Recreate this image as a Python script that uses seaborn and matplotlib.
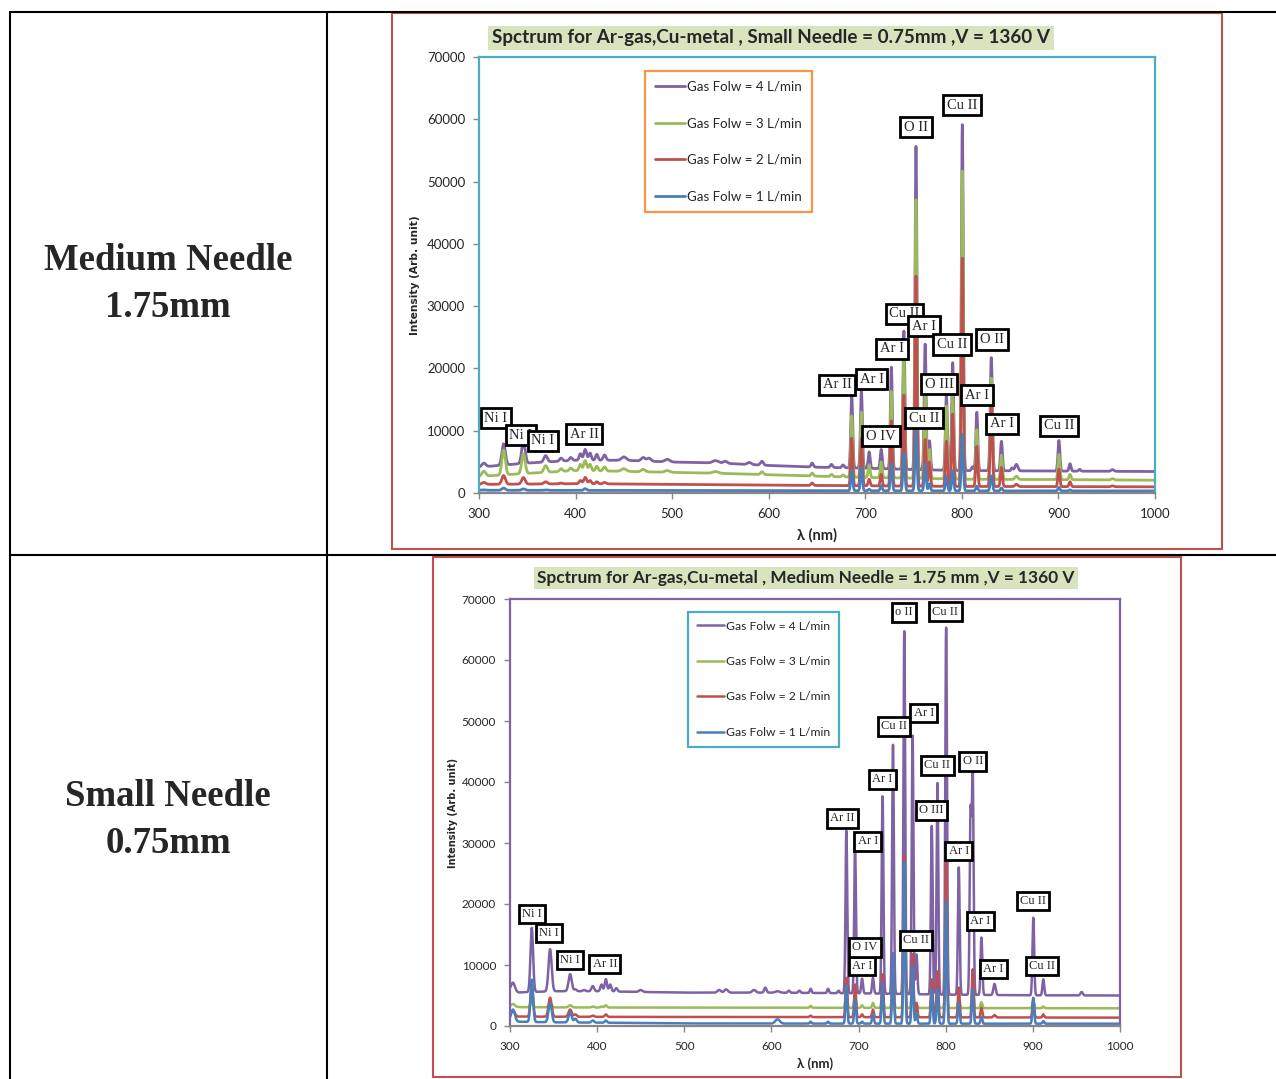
import matplotlib
matplotlib.use("Agg")
import matplotlib.pyplot as plt
import numpy as np
import pandas as pd
import seaborn as sns
from matplotlib.lines import Line2D
from matplotlib.patches import Rectangle

FLOW_LABELS = ["Gas Folw = 4 L/min", "Gas Folw = 3 L/min", "Gas Folw = 2 L/min", "Gas Folw = 1 L/min"]
FLOW_COLORS = ["#7f62a3", "#9bbb59", "#c0504d", "#4a7ebb"]

# ---- top chart: small needle 0.75 mm ----
SMALL_TITLE = "Spctrum for Ar-gas,Cu-metal , Small Needle = 0.75mm ,V = 1360 V"
SMALL_BASE_NM = [300, 350, 400, 450, 500, 550, 600, 650, 700, 750, 800, 900, 1000]
SMALL_BASE_P = [4150, 4800, 5250, 5250, 4970, 4800, 4420, 4140, 3980, 3760, 3600, 3520, 3450]
SMALL_BASE_G = [2650, 3150, 3600, 3480, 3310, 3150, 2930, 2700, 2490, 2380, 2210, 2150, 2050]
SMALL_BASE_R = [1380, 1430, 1490, 1450, 1380, 1330, 1270, 1210, 1160, 1100, 1050, 1020, 990]
SMALL_BASE_B = [440, 430, 420, 410, 400, 390, 380, 370, 360, 350, 340, 335, 330]

SMALL_PEAK_NM = [305, 325.5, 346, 369, 385, 395, 405, 410, 415, 422, 430, 450, 470, 476, 495,
                 545, 555, 580, 593, 645, 665, 677,
                 686, 696, 704, 716.5, 727, 740, 752.5, 762, 766.5, 784, 790.5, 800.5,
                 811, 815.5, 830.5, 841, 852, 856.5, 900.5, 912, 922, 956]
SMALL_PEAK_WIDTH = [2.0, 1.8, 1.8, 1.8, 1.5, 1.5, 1.3, 1.5, 1.3, 1.3, 1.5, 2.5, 2.0, 2.0, 2.5,
                    3.0, 2.0, 2.0, 1.5, 1.2, 1.2, 1.2,
                    1.0, 1.0, 1.0, 1.0, 1.0, 1.0, 1.0, 1.0, 1.0, 1.0, 1.0, 1.0,
                    1.0, 1.0, 1.1, 1.0, 1.0, 1.5, 1.0, 1.0, 1.0, 1.5]
SMALL_PEAK_P = [4800, 7900, 8300, 6000, 5600, 5700, 6300, 7000, 6400, 6200, 6100, 5800, 5700, 5600, 5400,
                5200, 5100, 4900, 5100, 4800, 4600, 4500,
                15700, 16500, 6600, 7000, 20200, 26000, 55900, 23900, 8400, 15700, 21000, 59400,
                4200, 13000, 21800, 8300, 4000, 4600, 8450, 4700, 3800, 3750]
SMALL_PEAK_G = [3500, 6900, 6300, 4400, 3900, 4000, 4600, 5200, 4600, 4300, 4200, 3900, 3800, 0, 3600,
                3450, 0, 0, 3400, 3200, 3000, 2900,
                12400, 13000, 4500, 5000, 16300, 21300, 47300, 16000, 7000, 14000, 15700, 51900,
                0, 10200, 18500, 6100, 0, 2700, 6200, 3000, 0, 2300]
SMALL_PEAK_R = [1700, 2800, 2500, 1800, 1600, 0, 2000, 2500, 2000, 1800, 1700, 0, 0, 0, 0,
                0, 0, 0, 0, 1600, 0, 0,
                8800, 8800, 2200, 3000, 11600, 15700, 35000, 8600, 5000, 8300, 12700, 37900,
                0, 7500, 14100, 4100, 0, 1400, 3850, 1800, 0, 1150]
SMALL_PEAK_B = [500, 800, 650, 500, 0, 0, 0, 700, 0, 0, 0, 0, 0, 0, 0,
                0, 0, 0, 0, 0, 0, 0,
                3600, 4100, 600, 1200, 4700, 6350, 10500, 4700, 1500, 2760, 3600, 9500,
                0, 1100, 2760, 800, 0, 0, 900, 500, 0, 0]

SMALL_LABEL_TEXT = ["Ni I", "Ni I", "Ni I", "Ar II", "Ar II", "Ar I", "O IV", "Ar I", "Cu II", "Ar I",
                    "Cu II", "O II", "O III", "Ar I", "Cu II", "Ar I", "Cu II", "O II", "Cu II"]
SMALL_LABEL_NM = [317.6, 343.5, 366.3, 408.7, 670.7, 706.6, 716.3, 727.7, 740.6, 760.8,
                  789.8, 831.2, 776.3, 815.7, 760.5, 841.3, 900.6, 752.5, 800.1]
SMALL_LABEL_Y = [12040, 9310, 8350, 9470, 17340, 18300, 9150, 23120, 28740, 26810,
                 23840, 24640, 17500, 15730, 12040, 11080, 10760, 58760, 62290]

# ---- bottom chart: medium needle 1.75 mm ----
MEDIUM_TITLE = "Spctrum for Ar-gas,Cu-metal , Medium Needle = 1.75 mm ,V = 1360 V"
MEDIUM_BASE_NM = [300, 310, 350, 400, 500, 600, 700, 800, 900, 1000]
MEDIUM_BASE_P = [6000, 5500, 5700, 5700, 5470, 5470, 5360, 5140, 5030, 5000]
MEDIUM_BASE_G = [3280, 3100, 3050, 3030, 3010, 3000, 2980, 2950, 2920, 2900]
MEDIUM_BASE_R = [1640, 1550, 1520, 1500, 1480, 1470, 1450, 1420, 1390, 1370]
MEDIUM_BASE_B = [1100, 700, 600, 550, 420, 400, 390, 380, 380, 380]

MEDIUM_PEAK_NM = [303.5, 325, 346, 369, 375, 385, 395, 405, 410, 415, 422, 450, 540, 548, 580, 593,
                  607, 620, 632, 645, 665, 677,
                  686, 696, 704, 716.5, 727.5, 739.5, 752.5, 762, 766.5, 784, 790.5, 800.5,
                  815, 828.5, 831, 841, 856, 900.5, 912, 956]
MEDIUM_PEAK_WIDTH = [2.0, 1.5, 1.8, 1.8, 1.5, 1.5, 1.5, 1.3, 1.3, 1.3, 1.3, 2.0, 2.0, 2.0, 2.0, 1.3,
                     2.5, 1.2, 1.2, 1.0, 1.0, 1.0,
                     1.0, 1.0, 1.0, 1.0, 1.0, 1.0, 1.0, 1.0, 1.0, 1.0, 1.0, 1.0,
                     1.0, 1.0, 1.0, 1.0, 1.3, 1.0, 1.0, 1.3]
MEDIUM_PEAK_P = [7100, 16100, 12600, 8500, 6000, 5900, 6550, 6800, 7700, 6800, 6200, 5900, 5900, 6000, 5900, 6300,
                 5700, 5800, 5800, 6100, 6100, 5800,
                 32000, 29500, 7760, 7900, 37800, 46300, 65000, 47600, 11750, 32800, 40000, 65600,
                 26000, 34400, 40700, 14500, 6900, 17800, 7650, 5580]
MEDIUM_PEAK_G = [3600, 4000, 3700, 3400, 0, 0, 3200, 3200, 3400, 0, 0, 0, 0, 0, 0, 0,
                 0, 0, 0, 3300, 0, 0,
                 6000, 5000, 3400, 3800, 6000, 9000, 20000, 8000, 3500, 5000, 6000, 18000,
                 4500, 0, 7000, 3900, 0, 4000, 3200, 0]
MEDIUM_PEAK_R = [2500, 6500, 4650, 2700, 1900, 0, 1700, 0, 1900, 0, 0, 0, 0, 0, 0, 0,
                 0, 0, 0, 1700, 0, 0,
                 7900, 6800, 1900, 2700, 8500, 11000, 28200, 11800, 3800, 7650, 9000, 27000,
                 6300, 0, 9300, 3000, 1800, 4400, 1900, 0]
MEDIUM_PEAK_B = [2700, 7600, 3800, 2200, 1200, 0, 900, 0, 900, 0, 0, 0, 0, 0, 0, 0,
                 1100, 0, 0, 700, 700, 0,
                 6560, 4400, 700, 2000, 7000, 12000, 27000, 9800, 2000, 6000, 6000, 20500,
                 3800, 0, 6000, 1500, 0, 4650, 800, 0]

MEDIUM_LABEL_TEXT = ["Ni I", "Ni I", "Ni I", "Ar II", "Ar II", "Ar I", "Ar I", "O IV", "Ar I", "Cu II", "o II",
                     "Ar I", "Cu II", "O III", "Cu II", "O II", "Cu II", "Ar I", "Ar I", "Ar I", "Cu II", "Cu II"]
MEDIUM_LABEL_NM = [325.2, 344.8, 368.9, 409.0, 681.5, 710.5, 703.9, 707.1, 727.6, 740.4, 752.1,
                   774.8, 766.0, 783.3, 790.5, 831.0, 799.7, 815.1, 840.1, 854.7, 900.2, 910.5]
MEDIUM_LABEL_Y = [18360, 15250, 10820, 10160, 34020, 30280, 9870, 12870, 40410, 49130, 67790,
                  51340, 14050, 35360, 42740, 43390, 67950, 28720, 17180, 9340, 20490, 9840]

ROW_LABELS = ["Medium Needle\n1.75mm", "Small Needle\n0.75mm"]

W, H = 1276, 1079
GRID = np.arange(300, 1000.001, 0.2)


def fx(x):
    return x / W


def fy(y):
    return 1 - y / H


def spectrum(base_nm, base_vals, peak_nm, widths, tops):
    base = np.interp(GRID, base_nm, base_vals)
    out = base.copy()
    for c, w, top in zip(peak_nm, widths, tops):
        if top <= 0:
            continue
        amp = top - np.interp(c, base_nm, base_vals)
        out += amp * np.exp(-0.5 * ((GRID - c) / w) ** 2)
    return out


def draw_chart(fig, box, frame, title, title_xy, title_size, border, legend_color, legend_anchor,
               base_nm, bases, peak_nm, widths, tops, labels, lnm, ly, sizes):
    tick_size, label_size, ylab_size, legend_size, lw, legend_space, xlab_y = sizes
    frames = []
    for flow, base_vals, peak_tops in zip(FLOW_LABELS, bases, tops):
        frames.append(pd.DataFrame({
            "wavelength": GRID,
            "intensity": spectrum(base_nm, base_vals, peak_nm, widths, peak_tops),
            "flow": flow,
        }))
    data = pd.concat(frames, ignore_index=True)

    x0, y0, x1, y1 = box
    ax = fig.add_axes([fx(x0), fy(y1), (x1 - x0) / W, (y1 - y0) / H])
    sns.lineplot(data=data, x="wavelength", y="intensity", hue="flow", hue_order=FLOW_LABELS,
                 palette=FLOW_COLORS, estimator=None, sort=False, linewidth=lw, ax=ax)
    ax.set(xlim=(300, 1000), ylim=(0, 70000))
    ax.set_xticks(range(300, 1001, 100))
    ax.set_yticks(range(0, 70001, 10000))
    ax.tick_params(axis="both", labelsize=tick_size, color="#868686", length=4, width=1)
    ax.tick_params(axis="x", pad=6.5)
    ax.tick_params(axis="y", pad=6)
    for lab in ax.get_xticklabels() + ax.get_yticklabels():
        lab.set_family("Lato")
    for name, spine in ax.spines.items():
        spine.set_visible(True)
        spine.set_color(border if name != "bottom" else "#868686")
        spine.set_linewidth(1.6)

    ax.set_xlabel("λ (nm)", fontsize=tick_size + 1, fontweight="bold", family="Lato")
    ax.set_ylabel("Intensity (Arb. unit)", fontsize=ylab_size, fontweight="bold", family="DejaVu Sans")
    ax.xaxis.label.set_va("center")
    ax.yaxis.label.set_va("center")
    ax.xaxis.set_label_coords(0.5, xlab_y)
    ax.yaxis.set_label_coords(-0.094, 0.5)

    handles, names = ax.get_legend_handles_labels()
    leg = ax.legend(handles, names, loc="upper left", bbox_to_anchor=legend_anchor, borderaxespad=0,
                    frameon=True, fancybox=False, framealpha=1, handlelength=2.25, handletextpad=0.2,
                    labelspacing=legend_space, borderpad=0.72,
                    prop={"family": "Lato", "size": legend_size})
    leg.get_frame().set_edgecolor(legend_color)
    leg.get_frame().set_linewidth(1.6)

    for i, (text, xv, yv) in enumerate(zip(labels, lnm, ly)):
        ax.text(xv, yv, text, ha="center", va="center", fontsize=label_size, family="Liberation Serif",
                zorder=10 + i, clip_on=False,
                bbox=dict(boxstyle="square,pad=0.26", fc="white", ec="black", lw=2.0))

    fx0, fy0, fx1, fy1 = frame
    fig.add_artist(Rectangle((fx(fx0), fy(fy1)), (fx1 - fx0) / W, (fy1 - fy0) / H,
                             transform=fig.transFigure, fill=False, ec="#c0504d", lw=1.5))
    fig.text(fx(title_xy[0]), fy(title_xy[1]), title, ha="center", va="center",
             fontsize=title_size, fontweight="bold", family="Lato",
             bbox=dict(boxstyle="square,pad=0.2", fc="#d7e4bd", ec="none"))
    return ax


def main() -> None:
    sns.set_style("ticks")
    plt.rcParams["font.family"] = ["Lato", "DejaVu Sans"]
    fig = plt.figure(figsize=(W / 100, H / 100), dpi=100)

    # table grid
    for xs, ys in [((10, 10), (12, H)), ((327, 327), (12, H)), ((10, W), (12, 12)), ((10, W), (555, 555))]:
        fig.add_artist(Line2D([fx(xs[0]), fx(xs[1])], [fy(ys[0]), fy(ys[1])],
                              transform=fig.transFigure, color="black", lw=1.5))
    for text, yc in zip(ROW_LABELS, [284, 820]):
        fig.text(fx(168), fy(yc), text, ha="center", va="center", fontsize=26.5, fontweight="bold",
                 family="Liberation Serif", linespacing=1.48)

    draw_chart(fig, (479, 57, 1155, 493), (392, 13, 1222, 549), SMALL_TITLE, (771, 38), 13.6,
               "#4bacc6", "#f79646", (0.2456, 0.968),
               SMALL_BASE_NM, [SMALL_BASE_P, SMALL_BASE_G, SMALL_BASE_R, SMALL_BASE_B],
               SMALL_PEAK_NM, SMALL_PEAK_WIDTH, [SMALL_PEAK_P, SMALL_PEAK_G, SMALL_PEAK_R, SMALL_PEAK_B],
               SMALL_LABEL_TEXT, SMALL_LABEL_NM, SMALL_LABEL_Y,
               (9.5, 10.5, 7.7, 9.6, 2.0, 1.85, -0.097))
    draw_chart(fig, (510, 599, 1120, 1026), (433, 557, 1181, 1077), MEDIUM_TITLE, (806, 578), 12.4,
               "#8064a2", "#4bacc6", (0.2918, 0.9696),
               MEDIUM_BASE_NM, [MEDIUM_BASE_P, MEDIUM_BASE_G, MEDIUM_BASE_R, MEDIUM_BASE_B],
               MEDIUM_PEAK_NM, MEDIUM_PEAK_WIDTH, [MEDIUM_PEAK_P, MEDIUM_PEAK_G, MEDIUM_PEAK_R, MEDIUM_PEAK_B],
               MEDIUM_LABEL_TEXT, MEDIUM_LABEL_NM, MEDIUM_LABEL_Y,
               (8.5, 9.0, 7.0, 8.7, 1.8, 2.02, -0.088))

    fig.savefig("out.png", dpi=100)
    plt.close(fig)


if __name__ == "__main__":
    main()
